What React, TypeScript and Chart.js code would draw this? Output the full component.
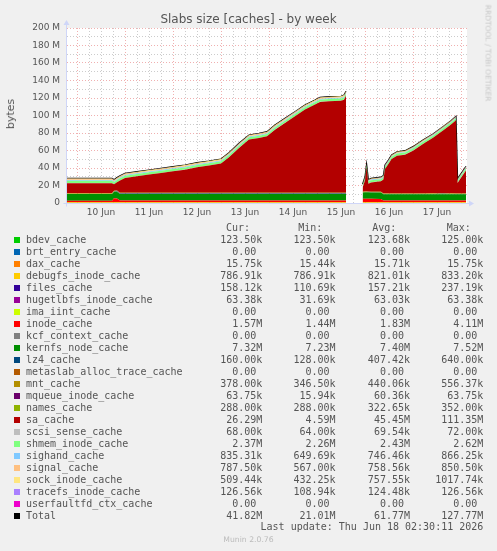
import React, { useEffect, useRef } from "react";
import { Chart, registerables } from "chart.js";
Chart.register(...registerables);

// hours since 10 Jun 00:00
const hours = [-5, 17.5, 18.5, 20, 21.5, 24, 30, 36, 42, 48, 54, 60, 66, 72, 76, 81, 86, 91, 95, 99, 104, 109, 114, 119, 121.5, 126, 132, 133.5, 134.5, 138, 142.8, 144, 144.8, 145.7, 147, 152, 153.2, 154, 155.7, 157.3, 160, 164, 168, 173, 178, 183, 187, 189.5, 190.3, 191.5, 194.5];

// values in M bytes
const bdevCache = [
  0.125, 0.125, 0.125, 0.125, 0.125, 0.125, 0.125, 0.125, 0.1235, 0.1235,
  0.1235, 0.1235, 0.1235, 0.1235, 0.1235, 0.1235, 0.1235, 0.1235, 0.1235, 0.1235,
  0.1235, 0.1235, 0.1235, 0.1235, 0.1235, 0.1235, 0.1235, 0.1235, 0.1235,
  null,
  0.1235, 0.1235, 0.1235, 0.1235, 0.1235, 0.1235, 0.1235, 0.1235, 0.1235, 0.1235,
  0.1235, 0.1235, 0.1235, 0.1235, 0.1235, 0.1235, 0.1235, 0.1235, 0.1235, 0.1235, 0.1235];
const brtEntryCache = [
  0, 0, 0, 0, 0, 0, 0, 0, 0, 0,
  0, 0, 0, 0, 0, 0, 0, 0, 0, 0,
  0, 0, 0, 0, 0, 0, 0, 0, 0,
  null,
  0, 0, 0, 0, 0, 0, 0, 0, 0, 0,
  0, 0, 0, 0, 0, 0, 0, 0, 0, 0, 0];
const daxCache = [
  0.0154, 0.0154, 0.0154, 0.0154, 0.0154, 0.0158, 0.0158, 0.0158, 0.0158, 0.0158,
  0.0158, 0.0158, 0.0158, 0.0158, 0.0158, 0.0158, 0.0158, 0.0158, 0.0158, 0.0158,
  0.0158, 0.0158, 0.0158, 0.0158, 0.0158, 0.0158, 0.0158, 0.0158, 0.0158,
  null,
  0.0158, 0.0158, 0.0158, 0.0158, 0.0158, 0.0158, 0.0158, 0.0158, 0.0158, 0.0158,
  0.0158, 0.0158, 0.0158, 0.0158, 0.0158, 0.0158, 0.0158, 0.0158, 0.0158, 0.0158, 0.0158];
const debugfsInodeCache = [
  0.833, 0.833, 0.833, 0.833, 0.833, 0.833, 0.833, 0.833, 0.833, 0.833,
  0.833, 0.833, 0.833, 0.833, 0.833, 0.833, 0.833, 0.833, 0.833, 0.833,
  0.833, 0.833, 0.833, 0.833, 0.833, 0.833, 0.833, 0.833, 0.833,
  null,
  0.787, 0.787, 0.787, 0.787, 0.787, 0.787, 0.787, 0.787, 0.787, 0.787,
  0.787, 0.787, 0.787, 0.787, 0.787, 0.787, 0.787, 0.787, 0.787, 0.787, 0.787];
const filesCache = [
  0.111, 0.111, 0.237, 0.2, 0.16, 0.16, 0.16, 0.16, 0.16, 0.16,
  0.16, 0.16, 0.16, 0.16, 0.16, 0.16, 0.16, 0.16, 0.16, 0.16,
  0.16, 0.16, 0.16, 0.16, 0.16, 0.16, 0.16, 0.16, 0.16,
  null,
  0.158, 0.158, 0.158, 0.158, 0.158, 0.158, 0.158, 0.158, 0.158, 0.158,
  0.158, 0.158, 0.158, 0.158, 0.158, 0.158, 0.158, 0.158, 0.158, 0.158, 0.158];
const hugetlbfsInodeCache = [
  0.0634, 0.0634, 0.0634, 0.0634, 0.0634, 0.0634, 0.0634, 0.0634, 0.0634, 0.0634,
  0.0634, 0.0634, 0.0634, 0.0634, 0.0634, 0.0634, 0.0634, 0.0634, 0.0634, 0.0634,
  0.0634, 0.0634, 0.0634, 0.0634, 0.0634, 0.0634, 0.0634, 0.0634, 0.0634,
  null,
  0.0317, 0.0634, 0.0634, 0.0634, 0.0634, 0.0634, 0.0634, 0.0634, 0.0634, 0.0634,
  0.0634, 0.0634, 0.0634, 0.0634, 0.0634, 0.0634, 0.0634, 0.0634, 0.0634, 0.0634, 0.0634];
const imaIintCache = [
  0, 0, 0, 0, 0, 0, 0, 0, 0, 0,
  0, 0, 0, 0, 0, 0, 0, 0, 0, 0,
  0, 0, 0, 0, 0, 0, 0, 0, 0,
  null,
  0, 0, 0, 0, 0, 0, 0, 0, 0, 0,
  0, 0, 0, 0, 0, 0, 0, 0, 0, 0, 0];
const inodeCache = [
  1.5, 1.5, 4.1, 4.0, 1.6, 1.6, 1.6, 1.6, 1.6, 1.6,
  1.6, 1.6, 1.6, 1.6, 1.6, 1.6, 1.6, 1.6, 1.6, 1.6,
  1.6, 1.6, 1.6, 1.6, 1.6, 1.6, 1.6, 1.6, 1.6,
  null,
  3.6, 3.8, 3.8, 3.7, 3.6, 3.5, 1.6, 1.57, 1.57, 1.57,
  1.57, 1.57, 1.57, 1.57, 1.57, 1.57, 1.57, 1.57, 1.57, 1.57, 1.57];
const kcfContextCache = [
  0, 0, 0, 0, 0, 0, 0, 0, 0, 0,
  0, 0, 0, 0, 0, 0, 0, 0, 0, 0,
  0, 0, 0, 0, 0, 0, 0, 0, 0,
  null,
  0, 0, 0, 0, 0, 0, 0, 0, 0, 0,
  0, 0, 0, 0, 0, 0, 0, 0, 0, 0, 0];
const kernfsNodeCache = [
  7.52, 7.52, 7.5, 7.5, 7.45, 7.45, 7.45, 7.45, 7.45, 7.45,
  7.45, 7.45, 7.45, 7.45, 7.45, 7.45, 7.45, 7.45, 7.45, 7.45,
  7.45, 7.45, 7.45, 7.45, 7.45, 7.45, 7.45, 7.45, 7.45,
  null,
  7.23, 7.25, 7.28, 7.3, 7.32, 7.32, 7.32, 7.32, 7.32, 7.32,
  7.32, 7.32, 7.32, 7.32, 7.32, 7.32, 7.32, 7.32, 7.32, 7.32, 7.32];
const lz4Cache = [
  0.128, 0.128, 0.3, 0.64, 0.6, 0.6, 0.6, 0.6, 0.6, 0.6,
  0.6, 0.6, 0.6, 0.6, 0.6, 0.6, 0.6, 0.6, 0.6, 0.6,
  0.6, 0.6, 0.6, 0.6, 0.6, 0.6, 0.6, 0.6, 0.6,
  null,
  0.16, 0.16, 0.16, 0.16, 0.16, 0.16, 0.16, 0.16, 0.16, 0.16,
  0.16, 0.16, 0.16, 0.16, 0.3, 0.4, 0.3, 0.2, 0.16, 0.16, 0.16];
const metaslabAllocTraceCache = [
  0, 0, 0, 0, 0, 0, 0, 0, 0, 0,
  0, 0, 0, 0, 0, 0, 0, 0, 0, 0,
  0, 0, 0, 0, 0, 0, 0, 0, 0,
  null,
  0, 0, 0, 0, 0, 0, 0, 0, 0, 0,
  0, 0, 0, 0, 0, 0, 0, 0, 0, 0, 0];
const mntCache = [
  0.556, 0.556, 0.5, 0.45, 0.4, 0.4, 0.4, 0.4, 0.4, 0.4,
  0.4, 0.4, 0.4, 0.4, 0.4, 0.4, 0.4, 0.4, 0.4, 0.4,
  0.4, 0.4, 0.4, 0.4, 0.4, 0.4, 0.4, 0.4, 0.4,
  null,
  0.35, 0.36, 0.37, 0.378, 0.378, 0.378, 0.378, 0.378, 0.378, 0.378,
  0.378, 0.378, 0.378, 0.378, 0.378, 0.378, 0.378, 0.378, 0.378, 0.378, 0.378];
const mqueueInodeCache = [
  0.0637, 0.0637, 0.0637, 0.0637, 0.0637, 0.0637, 0.0637, 0.0637, 0.0637, 0.0637,
  0.0637, 0.0637, 0.0637, 0.0637, 0.0637, 0.0637, 0.0637, 0.0637, 0.0637, 0.0637,
  0.0637, 0.0637, 0.0637, 0.0637, 0.0637, 0.0637, 0.0637, 0.0637, 0.0637,
  null,
  0.0159, 0.0637, 0.0637, 0.0637, 0.0637, 0.0637, 0.0637, 0.0637, 0.0637, 0.0637,
  0.0637, 0.0637, 0.0637, 0.0637, 0.0637, 0.0637, 0.0637, 0.0637, 0.0637, 0.0637, 0.0637];
const namesCache = [
  0.352, 0.352, 0.34, 0.33, 0.33, 0.33, 0.33, 0.33, 0.33, 0.33,
  0.33, 0.33, 0.33, 0.33, 0.33, 0.33, 0.33, 0.33, 0.33, 0.33,
  0.33, 0.33, 0.33, 0.33, 0.33, 0.33, 0.33, 0.33, 0.33,
  null,
  0.288, 0.288, 0.288, 0.288, 0.288, 0.288, 0.288, 0.288, 0.288, 0.288,
  0.288, 0.288, 0.288, 0.288, 0.288, 0.288, 0.288, 0.288, 0.288, 0.288, 0.288];
const saCache = [
  11.4, 11.4, 7.4, 9.5, 14.1, 17.0, 18.9, 20.8, 22.7, 24.6,
  26.5, 29.2, 31.1, 33.4, 40.6, 51.3, 60.8, 62.7, 64.6, 72.2,
  79.9, 87.5, 95.1, 100.8, 103.9, 104.6, 105.1, 106.5, 110.9,
  null,
  4.6, 12.8, 27.2, 9.0, 10.6, 11.9, 16.0, 27.9, 33.6, 39.4,
  43.1, 44.3, 48.9, 56.5, 63.4, 71.7, 78.6, 83.5, 12.0, 16.3, 26.3];
const scsiSenseCache = [
  0.072, 0.072, 0.072, 0.072, 0.072, 0.072, 0.072, 0.072, 0.072, 0.072,
  0.072, 0.072, 0.072, 0.072, 0.072, 0.072, 0.072, 0.072, 0.072, 0.072,
  0.072, 0.072, 0.072, 0.072, 0.072, 0.072, 0.072, 0.072, 0.072,
  null,
  0.064, 0.068, 0.068, 0.068, 0.068, 0.068, 0.068, 0.068, 0.068, 0.068,
  0.068, 0.068, 0.068, 0.068, 0.068, 0.068, 0.068, 0.068, 0.068, 0.068, 0.068];
const shmemInodeCache = [
  2.62, 2.62, 2.3, 2.45, 2.5, 2.5, 2.5, 2.5, 2.5, 2.5,
  2.5, 2.5, 2.5, 2.5, 2.5, 2.5, 2.5, 2.5, 2.5, 2.5,
  2.5, 2.5, 2.5, 2.5, 2.5, 2.5, 2.5, 2.5, 2.5,
  null,
  2.26, 2.3, 2.35, 2.37, 2.37, 2.37, 2.37, 2.37, 2.37, 2.37,
  2.37, 2.37, 2.37, 2.37, 2.37, 2.37, 2.37, 2.37, 2.37, 2.37, 2.37];
const sighandCache = [
  0.85, 0.85, 0.85, 0.85, 0.85, 0.85, 0.85, 0.85, 0.85, 0.85,
  0.85, 0.85, 0.85, 0.85, 0.85, 0.85, 0.85, 0.85, 0.85, 0.85,
  0.85, 0.85, 0.85, 0.85, 0.85, 0.85, 0.85, 0.85, 0.85,
  null,
  0.65, 0.7, 0.72, 0.74, 0.76, 0.76, 0.76, 0.76, 0.76, 0.76,
  0.76, 0.76, 0.76, 0.76, 0.8, 0.8, 0.8, 0.8, 0.8, 0.8, 0.835];
const signalCache = [
  0.85, 0.85, 0.8, 0.8, 0.8, 0.8, 0.8, 0.8, 0.8, 0.8,
  0.8, 0.8, 0.8, 0.8, 0.8, 0.8, 0.8, 0.8, 0.8, 0.8,
  0.8, 0.8, 0.8, 0.8, 0.8, 0.8, 0.8, 0.8, 0.8,
  null,
  0.567, 0.6, 0.65, 0.7, 0.75, 0.75, 0.75, 0.75, 0.75, 0.75,
  0.75, 0.75, 0.75, 0.75, 0.75, 0.75, 0.75, 0.75, 0.75, 0.75, 0.7875];
const sockInodeCache = [
  1.0, 1.0, 0.9, 0.95, 0.95, 0.95, 0.95, 0.95, 0.95, 0.95,
  0.95, 0.95, 0.95, 0.95, 0.95, 0.95, 0.95, 0.95, 0.95, 0.95,
  0.95, 0.95, 0.95, 0.95, 0.95, 0.95, 0.95, 0.95, 0.95,
  null,
  0.432, 0.45, 0.47, 0.48, 0.5, 0.5, 0.5, 0.5, 0.5, 0.5,
  0.5, 0.5, 0.5, 0.5, 0.5, 0.5, 0.5, 0.5, 0.5, 0.5, 0.509];
const tracefsInodeCache = [
  0.125, 0.125, 0.125, 0.125, 0.125, 0.125, 0.125, 0.125, 0.125, 0.125,
  0.125, 0.125, 0.125, 0.125, 0.125, 0.125, 0.125, 0.125, 0.125, 0.125,
  0.125, 0.125, 0.125, 0.125, 0.125, 0.125, 0.125, 0.125, 0.125,
  null,
  0.109, 0.115, 0.12, 0.1266, 0.1266, 0.1266, 0.1266, 0.1266, 0.1266, 0.1266,
  0.1266, 0.1266, 0.1266, 0.1266, 0.1266, 0.1266, 0.1266, 0.1266, 0.1266, 0.1266, 0.1266];
const userfaultfdCtxCache = [
  0, 0, 0, 0, 0, 0, 0, 0, 0, 0,
  0, 0, 0, 0, 0, 0, 0, 0, 0, 0,
  0, 0, 0, 0, 0, 0, 0, 0, 0,
  null,
  0, 0, 0, 0, 0, 0, 0, 0, 0, 0,
  0, 0, 0, 0, 0, 0, 0, 0, 0, 0, 0];
const totalValues = [
  28.2, 28.2, 26.5, 29, 31, 33.9, 35.8, 37.7, 39.6, 41.5,
  43.4, 46.1, 48, 50.3, 57.5, 68.2, 77.7, 79.6, 81.5, 89.1,
  96.8, 104.4, 112, 117.7, 120.8, 121.5, 122, 123.4, 127.8,
  null,
  21.4, 30, 44.6, 26.5, 28.2, 29.5, 31.5, 43.4, 49.1, 54.9,
  58.6, 59.8, 64.4, 72, 78.9, 87.2, 94.1, 99, 27.5, 31.8, 41.8];

const seriesNames = ["bdev_cache", "brt_entry_cache", "dax_cache", "debugfs_inode_cache", "files_cache", "hugetlbfs_inode_cache", "ima_iint_cache", "inode_cache", "kcf_context_cache", "kernfs_node_cache", "lz4_cache", "metaslab_alloc_trace_cache", "mnt_cache", "mqueue_inode_cache", "names_cache", "sa_cache", "scsi_sense_cache", "shmem_inode_cache", "sighand_cache", "signal_cache", "sock_inode_cache", "tracefs_inode_cache", "userfaultfd_ctx_cache", "Total"];
const seriesColors = ["#00CC00", "#0066B3", "#FF8000", "#FFCC00", "#330099", "#990099", "#CCFF00", "#FF0000", "#808080", "#008F00", "#00487D", "#B35A00", "#B38F00", "#6B006B", "#8FB300", "#B30000", "#BEBEBE", "#80FF80", "#80C9FF", "#FFC080", "#FFE680", "#AA80FF", "#EE00CC", "#000000"];
const stackedValues = [bdevCache, brtEntryCache, daxCache, debugfsInodeCache, filesCache, hugetlbfsInodeCache, imaIintCache, inodeCache, kcfContextCache, kernfsNodeCache, lz4Cache, metaslabAllocTraceCache, mntCache, mqueueInodeCache, namesCache, saCache, scsiSenseCache, shmemInodeCache, sighandCache, signalCache, sockInodeCache, tracefsInodeCache, userfaultfdCtxCache];

const curLabels = ["123.50k", "0.00 ", "15.75k", "786.91k", "158.12k", "63.38k", "0.00 ", "1.57M", "0.00 ", "7.32M", "160.00k", "0.00 ", "378.00k", "63.75k", "288.00k", "26.29M", "68.00k", "2.37M", "835.31k", "787.50k", "509.44k", "126.56k", "0.00 ", "41.82M"];
const minLabels = ["123.50k", "0.00 ", "15.44k", "786.91k", "110.69k", "31.69k", "0.00 ", "1.44M", "0.00 ", "7.23M", "128.00k", "0.00 ", "346.50k", "15.94k", "288.00k", "4.59M", "64.00k", "2.26M", "649.69k", "567.00k", "432.25k", "108.94k", "0.00 ", "21.01M"];
const avgLabels = ["123.68k", "0.00 ", "15.71k", "821.01k", "157.21k", "63.03k", "0.00 ", "1.83M", "0.00 ", "7.40M", "407.42k", "0.00 ", "440.06k", "60.36k", "322.65k", "45.45M", "69.54k", "2.43M", "746.46k", "758.56k", "757.55k", "124.48k", "0.00 ", "61.77M"];
const maxLabels = ["125.00k", "0.00 ", "15.75k", "833.20k", "237.19k", "63.38k", "0.00 ", "4.11M", "0.00 ", "7.52M", "640.00k", "0.00 ", "556.37k", "63.75k", "352.00k", "111.35M", "72.00k", "2.62M", "866.25k", "850.50k", "1017.74k", "126.56k", "0.00 ", "127.77M"];

const dayLabels = ["10 Jun", "11 Jun", "12 Jun", "13 Jun", "14 Jun", "15 Jun", "16 Jun", "17 Jun"];
const yTickLabels = ["0", "20 M", "40 M", "60 M", "80 M", "100 M", "120 M", "140 M", "160 M", "180 M", "200 M"];

const TEXT = "#555555";
const MINOR_GRID = "rgba(143,143,143,0.45)";
const MAJOR_GRID = "rgba(222,79,79,0.45)";
const AXIS = "#CFD6F8";

const canvasPlugin = {
  id: "munin",
  beforeDraw(chart: any) {
    const { ctx, chartArea: a } = chart;
    ctx.save();
    ctx.fillStyle = "#FFFFFF";
    ctx.fillRect(a.left, a.top, a.right - a.left, a.bottom - a.top);
    ctx.restore();
  },
  afterDraw(chart: any) {
    const { ctx, chartArea: a } = chart;
    ctx.save();
    ctx.strokeStyle = AXIS;
    ctx.fillStyle = AXIS;
    ctx.lineWidth = 1;
    const yb = Math.round(a.bottom) + 0.5;
    const xl = Math.round(a.left) - 0.5;
    ctx.beginPath();
    ctx.moveTo(xl - 3, yb);
    ctx.lineTo(a.right + 3, yb);
    ctx.moveTo(xl, yb + 3);
    ctx.lineTo(xl, a.top - 4);
    ctx.stroke();
    ctx.beginPath();
    ctx.moveTo(a.right + 7, yb);
    ctx.lineTo(a.right + 2, yb - 3);
    ctx.lineTo(a.right + 2, yb + 3);
    ctx.closePath();
    ctx.fill();
    ctx.beginPath();
    ctx.moveTo(xl, a.top - 8);
    ctx.lineTo(xl - 3, a.top - 3);
    ctx.lineTo(xl + 3, a.top - 3);
    ctx.closePath();
    ctx.fill();
    ctx.restore();
  },
};

export default function App() {
  const ref = useRef<HTMLCanvasElement>(null);
  useEffect(() => {
    const canvas = ref.current;
    if (!canvas) return;
    const datasets: any[] = stackedValues.map((vals, i) => ({
      label: seriesNames[i],
      data: hours.map((h, j) => ({ x: h, y: vals[j] })),
      backgroundColor: seriesColors[i],
      borderColor: "rgba(0,0,0,0)",
      borderWidth: 0,
      pointRadius: 0,
      fill: i === 0 ? "origin" : "-1",
      stack: "slabs",
      tension: 0,
      spanGaps: false,
    }));
    datasets.push({
      label: "Total",
      data: hours.map((h, j) => ({ x: h, y: totalValues[j] })),
      borderColor: "#000000",
      backgroundColor: "#000000",
      borderWidth: 1.2,
      pointRadius: 0,
      fill: false,
      stack: "total",
      tension: 0,
      spanGaps: false,
    });
    const font = { family: "DejaVu Sans", size: 9 };
    const chart = new Chart(canvas, {
      type: "line",
      data: { datasets },
      options: {
        responsive: false,
        maintainAspectRatio: false,
        devicePixelRatio: 1,
        animation: false,
        events: [],
        layout: { padding: { left: 0, top: 28, right: 30, bottom: 0 } },
        plugins: { legend: { display: false }, tooltip: { enabled: false }, title: { display: false } },
        scales: {
          x: {
            type: "linear",
            min: -5,
            max: 195,
            z: 1,
            border: { display: false, dash: [1, 2] },
            grid: {
              drawTicks: false,
              lineWidth: 1,
              color: (c: any) => (c.tick && c.tick.value % 24 === 0 ? MAJOR_GRID : MINOR_GRID),
            },
            ticks: {
              stepSize: 6,
              includeBounds: false,
              autoSkip: false,
              maxRotation: 0,
              minRotation: 0,
              padding: 4,
              font,
              color: TEXT,
              callback: (v: any) => {
                const n = Number(v);
                if ((n - 12) % 24 !== 0) return "";
                return dayLabels[(n - 12) / 24] ?? "";
              },
            },
            afterFit: (s: any) => {
              s.height = 22;
            },
          },
          y: {
            stacked: true,
            min: 0,
            max: 200,
            z: 1,
            border: { display: false, dash: [1, 2] },
            grid: {
              drawTicks: false,
              lineWidth: 1,
              color: (c: any) => (c.tick && c.tick.value % 20 === 0 ? MAJOR_GRID : MINOR_GRID),
            },
            ticks: {
              stepSize: 10,
              padding: 7,
              autoSkip: false,
              font,
              color: TEXT,
              callback: (v: any) => {
                const n = Number(v);
                if (n % 20 !== 0) return "";
                return yTickLabels[n / 20];
              },
            },
            afterFit: (s: any) => {
              s.width = 67;
            },
          },
        },
      },
      plugins: [canvasPlugin],
    } as any);
    return () => chart.destroy();
  }, []);

  const mono = '"DejaVu Sans Mono", monospace';
  const rowTop = (i: number) => 234 + i * 12;
  const colRights = [234.7, 161.4, 87, 13.7];
  const headerLefts = [226, 298.3, 372.3, 446.7];
  const headers = ["Cur:", "Min:", "Avg:", "Max:"];
  const cols = [curLabels, minLabels, avgLabels, maxLabels];

  return (
    <div
      style={{
        position: "absolute",
        left: 0,
        top: 0,
        width: 497,
        height: 551,
        background: "#F0F0F0",
        overflow: "hidden",
        fontFamily: '"DejaVu Sans", sans-serif',
        color: TEXT,
      }}
    >
      <canvas ref={ref} width={497} height={225} style={{ position: "absolute", left: 0, top: 0, width: 497, height: 225 }} />
      <div style={{ position: "absolute", left: 0, top: 11, width: 497, textAlign: "center", fontSize: 12, lineHeight: "16px", whiteSpace: "nowrap" }}>
        Slabs size [caches] - by week
      </div>
      <div
        style={{
          position: "absolute",
          left: 10.5,
          top: 114,
          transform: "translate(-50%,-50%) rotate(-90deg)",
          fontSize: 11,
          lineHeight: "12px",
          whiteSpace: "nowrap",
        }}
      >
        bytes
      </div>
      <div
        style={{
          position: "absolute",
          left: 488,
          top: 53,
          transform: "translate(-50%,-50%) rotate(90deg)",
          fontSize: 7.5,
          lineHeight: "9px",
          color: "#C8C8C8",
          whiteSpace: "nowrap",
        }}
      >
        RRDTOOL / TOBI OETIKER
      </div>
      {headers.map((h, k) => (
        <div key={h} style={{ position: "absolute", left: headerLefts[k], top: 222, fontFamily: mono, fontSize: 10, lineHeight: "12px", whiteSpace: "pre" }}>
          {h}
        </div>
      ))}
      {seriesNames.map((name, i) => (
        <div key={name} style={{ position: "absolute", left: 0, top: rowTop(i), width: 497, height: 12, fontFamily: mono, fontSize: 10, lineHeight: "12px", whiteSpace: "pre" }}>
          <div style={{ position: "absolute", left: 14, top: 3, width: 6, height: 6, background: seriesColors[i] }} />
          <div style={{ position: "absolute", left: 26, top: 0 }}>{name}</div>
          {cols.map((c, k) => (
            <div key={k} style={{ position: "absolute", right: colRights[k], top: 0 }}>
              {c[i]}
            </div>
          ))}
        </div>
      ))}
      <div style={{ position: "absolute", right: 13.7, top: 521, fontFamily: mono, fontSize: 10, lineHeight: "12px", whiteSpace: "pre" }}>
        Last update: Thu Jun 18 02:30:11 2026
      </div>
      <div style={{ position: "absolute", left: 0, width: 497, top: 535, textAlign: "center", fontSize: 7.7, lineHeight: "10px", color: "#BBBBBB", whiteSpace: "nowrap" }}>
        Munin 2.0.76
      </div>
    </div>
  );
}
